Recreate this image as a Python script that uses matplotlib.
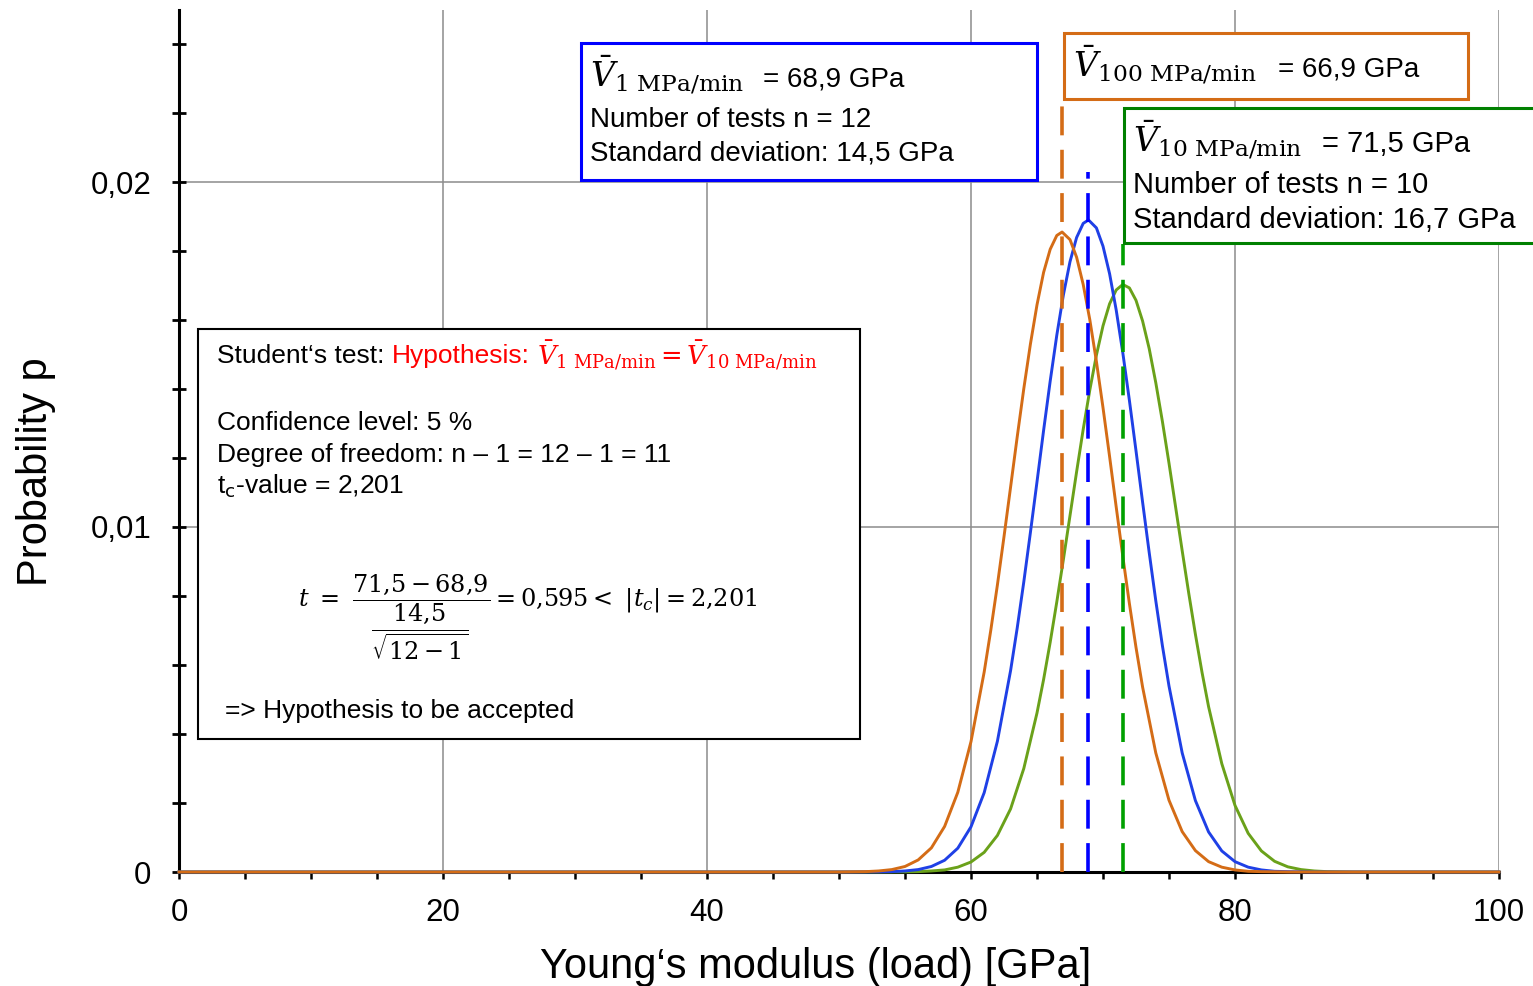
import matplotlib
matplotlib.use("Agg")
import matplotlib.pyplot as plt
from matplotlib.patches import Rectangle
from matplotlib.ticker import MultipleLocator, FuncFormatter

plt.rcParams['font.family'] = ['Liberation Sans', 'DejaVu Sans']
plt.rcParams['mathtext.fontset'] = 'dejavuserif'

W, H = 1533, 986

# curves: Young's modulus [GPa] -> probability p
x_100 = [0, 50, 52, 53, 54, 55, 56, 57, 58, 59, 60, 61, 61.5, 62, 62.5, 63, 63.5, 64,
         64.5, 65, 65.5, 66, 66.5, 66.9, 67.5, 68, 68.5, 69, 69.5, 70, 70.5, 71,
         71.5, 72, 72.5, 73, 74, 75, 76, 77, 78, 79, 80, 81, 82, 84, 100]
p_100 = [0, 0, 0.00001, 0.00003, 0.00007, 0.00016, 0.00035, 0.00070, 0.00132, 0.00231,
         0.00378, 0.00580, 0.00701, 0.00832, 0.00972, 0.01116, 0.01261, 0.01401,
         0.01530, 0.01644, 0.01738, 0.01805, 0.01845, 0.01855, 0.01833, 0.01782,
         0.01703, 0.01601, 0.01480, 0.01346, 0.01204, 0.01058, 0.00915, 0.00778,
         0.00651, 0.00536, 0.00345, 0.00208, 0.00117, 0.00062, 0.00030, 0.00014,
         0.00006, 0.00002, 0.00001, 0, 0]

x_1 = [0, 51, 53, 54, 55, 56, 57, 58, 59, 60, 61, 62, 63, 63.5, 64, 64.5, 65, 65.5,
       66, 66.5, 67, 67.5, 68, 68.5, 68.9, 69.5, 70, 70.5, 71, 71.5, 72, 72.5, 73,
       73.5, 74, 74.5, 75, 76, 77, 78, 79, 80, 81, 82, 83, 84, 86, 100]
p_1 = [0, 0, 0.000004, 0.00001, 0.00003, 0.00007, 0.00016, 0.00034, 0.00069, 0.00131,
       0.00230, 0.00379, 0.00584, 0.00707, 0.00841, 0.00984, 0.01131, 0.01280,
       0.01423, 0.01556, 0.01673, 0.01769, 0.01839, 0.01880, 0.01890, 0.01867,
       0.01814, 0.01734, 0.01629, 0.01505, 0.01367, 0.01221, 0.01072, 0.00926,
       0.00786, 0.00656, 0.00539, 0.00345, 0.00207, 0.00116, 0.00061, 0.00030,
       0.00014, 0.00006, 0.00002, 0.00001, 0, 0]

x_10 = [0, 53, 55, 56, 57, 58, 59, 60, 61, 62, 63, 64, 65, 65.5, 66, 66.5, 67, 67.5,
        68, 68.5, 69, 69.5, 70, 70.5, 71, 71.5, 72, 72.5, 73, 73.5, 74, 74.5, 75,
        75.5, 76, 76.5, 77, 77.5, 78, 79, 80, 81, 82, 83, 84, 85, 86, 87, 89, 100]
p_10 = [0, 0, 0.000004, 0.00001, 0.00003, 0.00006, 0.00014, 0.00029, 0.00057, 0.00106,
        0.00183, 0.00300, 0.00461, 0.00558, 0.00666, 0.00783, 0.00906, 0.01033,
        0.01160, 0.01283, 0.01397, 0.01498, 0.01583, 0.01647, 0.01687, 0.01703,
        0.01693, 0.01657, 0.01597, 0.01517, 0.01418, 0.01306, 0.01185, 0.01058,
        0.00931, 0.00807, 0.00689, 0.00579, 0.00479, 0.00314, 0.00193, 0.00112,
        0.00061, 0.00031, 0.00015, 0.00007, 0.00003, 0.00001, 0, 0]

# mean values and height of the dashed marker lines
means = [66.9, 68.9, 71.5]
dash_tops = [0.0224, 0.0203, 0.0182]

c_orange = '#D46C16'
c_blue = '#1F40E6'
c_green = '#6AA11A'
dash_cols = ['#D46C16', '#0000FF', '#00A000']


def fx(px):
    return px / W


def fy(py):
    return 1 - py / H


fig = plt.figure(figsize=(W / 100, H / 100), dpi=100)
ax = fig.add_axes([fx(179), fy(872), (1499 - 179) / W, (872 - 9.5) / H])

ax.plot(x_10, p_10, color=c_green, lw=2.1, zorder=3, clip_on=False)
ax.plot(x_1, p_1, color=c_blue, lw=2.1, zorder=3.1, clip_on=False)
ax.plot(x_100, p_100, color=c_orange, lw=2.1, zorder=3.2, clip_on=False)

for m, top, c in zip(means, dash_tops, dash_cols):
    ax.vlines(m, 0, top, colors=c, lw=2.6, linestyles=(0, (8, 4)), zorder=4)

ax.set_xlim(0, 100)
ax.set_ylim(0, 0.025)
ax.xaxis.set_major_locator(MultipleLocator(20))
ax.xaxis.set_minor_locator(MultipleLocator(5))
ax.yaxis.set_major_locator(MultipleLocator(0.01))
ax.yaxis.set_minor_locator(MultipleLocator(0.002))
ax.yaxis.set_major_formatter(FuncFormatter(
    lambda v, pos: '0' if abs(v) < 1e-9 else f'{v:.2f}'.replace('.', ',')))

ax.grid(True, which='major', color='#8c8c8c', lw=1.1)
ax.set_axisbelow(True)
for s in ['top', 'right']:
    ax.spines[s].set_visible(False)
for s in ['left', 'bottom']:
    ax.spines[s].set_linewidth(2.2)
    ax.spines[s].set_color('black')

ax.tick_params(axis='y', which='both', direction='inout', length=10, width=2.0,
               labelsize=22.5, pad=15)
ax.tick_params(axis='x', which='both', direction='out', length=5, width=1.8,
               labelsize=22.5, pad=14)

ax.set_xlabel('Young‘s modulus (load) [GPa]', fontsize=30)
ax.xaxis.label.set_va('baseline')
ax.xaxis.set_label_coords((816 - 179) / 1320, (872 - 978) / 862.5)
ax.set_ylabel('Probability p', fontsize=30)
ax.yaxis.label.set_va('center')
ax.yaxis.set_label_coords((36 - 179) / 1320, (872 - 472) / 862.5)


def box(x0, y0, x1, y1, ec, lw):
    fig.add_artist(Rectangle((fx(x0), fy(y1)), (x1 - x0) / W, (y1 - y0) / H,
                             transform=fig.transFigure, fc='white', ec=ec, lw=lw,
                             zorder=5))


def txt(px, py, s, size, color='black', va='baseline'):
    fig.text(fx(px), fy(py), s, fontsize=size, color=color, ha='left', va=va,
             zorder=6)


# blue box: 1 MPa/min
box(581, 43, 1037, 180, '#0000FF', 2.2)
txt(590, 87, r'$\bar{V}_{1\ \mathrm{MPa/min}}$', 24)
txt(763, 87, '= 68,9 GPa', 20)
txt(590, 127, 'Number of tests n = 12', 20)
txt(590, 161, 'Standard deviation: 14,5 GPa', 20)

# orange box: 100 MPa/min
box(1064, 33, 1468, 99, c_orange, 2.2)
txt(1073, 77, r'$\bar{V}_{100\ \mathrm{MPa/min}}$', 24)
txt(1278, 77, '= 66,9 GPa', 20)

# green box: 10 MPa/min
box(1124, 108, 1545, 243, '#008000', 2.2)
txt(1133, 152, r'$\bar{V}_{10\ \mathrm{MPa/min}}$', 24)
txt(1322, 152, '= 71,5 GPa', 21)
txt(1133, 193, 'Number of tests n = 10', 21)
txt(1133, 228, 'Standard deviation: 16,7 GPa', 21)

# student's test box
box(198, 329, 860, 739, 'black', 1.5)
txt(217, 363, 'Student‘s test:', 19)
txt(392, 363, 'Hypothesis:', 19, color='#FF0000')
txt(537, 364, r'$\bar{V}_{1\ \mathrm{MPa/min}}=\bar{V}_{10\ \mathrm{MPa/min}}$',
    18.5, color='#FF0000')
txt(217, 430, 'Confidence level: 5 %', 19)
txt(217, 462, 'Degree of freedom: n – 1 = 12 – 1 = 11', 19)
txt(217, 494, r't$_{\mathsf{c}}$-value = 2,201', 19)
txt(298, 607, r'$t\ =\ \dfrac{71{,}5-68{,}9}{\dfrac{14{,}5}{\sqrt{12-1}}}=0{,}595<\ |t_c|=2{,}201$', 17.3)
txt(225, 718, '=> Hypothesis to be accepted', 19)

fig.savefig('out.png', dpi=100)
